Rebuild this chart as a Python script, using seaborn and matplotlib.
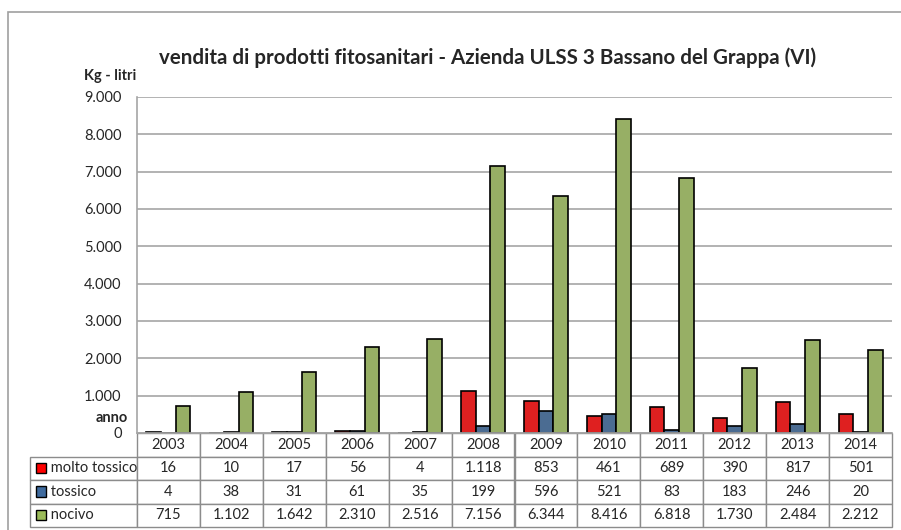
import matplotlib
matplotlib.use('Agg')
import matplotlib.pyplot as plt
import numpy as np
import pandas as pd
import seaborn as sns
from matplotlib.patches import Rectangle
from matplotlib.ticker import FuncFormatter

years = ['2003', '2004', '2005', '2006', '2007', '2008', '2009', '2010', '2011', '2012', '2013', '2014']
molto_tossico = [16, 10, 17, 56, 4, 1118, 853, 461, 689, 390, 817, 501]
tossico = [4, 38, 31, 61, 35, 199, 596, 521, 83, 183, 246, 20]
nocivo = [715, 1102, 1642, 2310, 2516, 7156, 6344, 8416, 6818, 1730, 2484, 2212]
series_names = ['molto tossico', 'tossico', 'nocivo']
colors = ['#FF0000', '#3F6B9E', '#9BBB59']

df = pd.DataFrame({'anno': years, 'molto tossico': molto_tossico,
                   'tossico': tossico, 'nocivo': nocivo})
long_df = df.melt(id_vars='anno', var_name='serie', value_name='valore')

sns.set_style('white')
plt.rcParams['font.family'] = ['Lato', 'DejaVu Sans']

fig = plt.figure(figsize=(9.01, 5.30), dpi=100)
ax = fig.add_axes([137 / 901, 1 - 433 / 530, 755 / 901, 336 / 530])

sns.barplot(data=long_df, x='anno', y='valore', hue='serie', hue_order=series_names,
            palette=colors, width=0.7, gap=0, edgecolor='black', linewidth=1.2,
            legend=False, ax=ax)

ax.set_ylim(0, 9000)
ax.set_xlim(-0.5, len(years) - 0.5)
ax.set_yticks(np.arange(0, 9001, 1000))
ax.yaxis.set_major_formatter(FuncFormatter(lambda v, p: f'{int(v):,}'.replace(',', '.')))
ax.tick_params(axis='y', labelsize=10.5, length=0, pad=11)
ax.set_xticks([])
ax.set_xlabel('')
ax.set_ylabel('')
ax.grid(axis='y', color='#A6A6A6', linewidth=1.2)
ax.set_axisbelow(True)
for s in ['top', 'right']:
    ax.spines[s].set_visible(False)
for s in ['left', 'bottom']:
    ax.spines[s].set_color('#A6A6A6')
    ax.spines[s].set_linewidth(1.2)

# data table under the chart
label_w = 107 / 755
n = len(years)
cell_text = [[''] + years]
for name, vals in zip(series_names, [molto_tossico, tossico, nocivo]):
    cell_text.append(['     ' + name] + [f'{v:,}'.replace(',', '.') for v in vals])
col_w = [label_w] + [1 / n] * n
tbl = ax.table(cellText=cell_text, colWidths=col_w, cellLoc='center',
               bbox=[-label_w, -0.28, 1 + label_w, 0.28])
tbl.auto_set_font_size(False)
tbl.set_fontsize(10.5)
for (r, c), cell in tbl.get_celld().items():
    cell.set_edgecolor('#8C8C8C')
    cell.set_linewidth(1.0)
    if c == 0:
        cell.get_text().set_ha('left')
        cell._loc = 'left'
        cell.PAD = 0.02
    if r == 0 and c == 0:
        cell.visible_edges = ''
for i, col in enumerate(colors):
    y0 = -0.28 + 0.07 * (2 - i) + 0.021
    ax.add_patch(Rectangle((-label_w + 0.008, y0), 0.013, 0.03, transform=ax.transAxes,
                           facecolor=col, edgecolor='black', linewidth=1, clip_on=False))

fig.text(488 / 901, 1 - 58 / 530, 'vendita di prodotti fitosanitari - Azienda ULSS 3 Bassano del Grappa (VI)',
         ha='center', va='center', fontsize=14.8, fontweight='bold')
fig.text(110 / 901, 1 - 76 / 530, 'Kg - litri', ha='center', va='center', fontsize=10.5, fontweight='bold')
fig.text(128 / 901, 1 - 418 / 530, 'anno', ha='right', va='center', fontsize=10.5, fontweight='bold')

fig.patches.append(Rectangle((8 / 901, -0.1), 1.2, 1 - 12 / 530 + 0.1, transform=fig.transFigure,
                             fill=False, edgecolor='#A0A0A0', linewidth=1.2))

fig.savefig('out.png', dpi=100)
